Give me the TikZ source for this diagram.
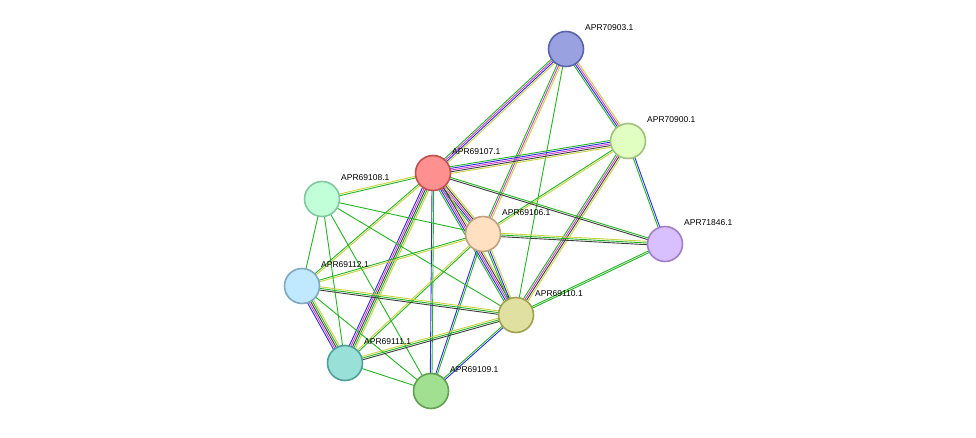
\documentclass[tikz,border=0pt]{standalone}
\usepackage{fontspec}
\setmainfont{Liberation Sans}
\usetikzlibrary{calc,backgrounds}
\definecolor{tm}{HTML}{C8D23C}
\definecolor{nb}{HTML}{22B422}
\definecolor{ex}{HTML}{D23CD2}
\definecolor{db}{HTML}{2A2AE8}
\definecolor{co}{HTML}{3C3C3C}
% link: from, to, number of lines, colours
\newcommand\link[4]{%
  \foreach \col [count=\i] in {#4} {%
    \pgfmathsetmacro\off{(\i-(#3+1)/2)*1.7}
    \draw[\col,line width=0.9pt] ($(#1.center)!\off pt!90:(#2.center)$) -- ($(#2.center)!\off pt!-90:(#1.center)$);
  }}
\begin{document}
\begin{tikzpicture}[x=1pt,y=1pt]
\tikzset{prot/.style = {circle,draw,line width=1.6pt,minimum size=35pt,inner sep=0pt}}
\tikzset{lab/.style = {anchor=west,inner sep=0pt,font=\fontsize{8.5}{10}\selectfont}}
\useasboundingbox (0,0) rectangle (976,437);
\foreach \n/\x/\y/\f/\b in {
  70903/566/388/99A1E0/5A64A8, 70900/628/296/E0FFC0/9FC27F,
  69107/433/264/FF9090/C05050, 69108/322/238/C0FFD8/80C8A0,
  69106/483/203/FFE0C0/C0A080, 71846/665/193/D8C0FF/9F80C8,
  69112/302/151/C0E8FF/80A8C0, 69110/516/122/E0E0A0/A0A050,
  69111/345/74/98E0D8/50A098, 69109/431/46/A0E090/60A050} {
  \definecolor{fc}{HTML}{\f}\definecolor{bc}{HTML}{\b}
  \node[prot,fill=fc,draw=bc] (n\n) at (\x,\y) {};
  \node[lab] (l\n) at ([shift={(19,21)}]n\n.center) {APR\n.1};
}
\begin{pgfonlayer}{background}
\link{n70903}{n70900}{4}{nb,db,ex,tm}
\link{n70903}{n69107}{4}{nb,ex,db,tm}
\link{n70903}{n69106}{3}{nb,ex,tm}
\link{n70903}{n69110}{1}{nb}
\link{n70900}{n69107}{5}{nb,db,ex,co,tm}
\link{n70900}{n69106}{2}{nb,tm}
\link{n70900}{n69110}{4}{nb,ex,co,tm}
\link{n70900}{n71846}{2}{nb,db}
\link{n69107}{n71846}{2}{co,nb}
\link{n69106}{n71846}{3}{co,nb,tm}
\link{n69110}{n71846}{2}{nb,nb}
\link{n69107}{n69106}{5}{nb,db,ex,co,tm}
\link{n69107}{n69110}{5}{nb,db,ex,co,tm}
\link{n69107}{n69108}{2}{tm,nb}
\link{n69107}{n69112}{2}{nb,tm}
\link{n69107}{n69111}{5}{db,ex,co,nb,tm}
\link{n69107}{n69109}{2}{db,nb}
\link{n69106}{n69110}{3}{nb,db,tm}
\link{n69106}{n69111}{2}{tm,nb}
\link{n69106}{n69109}{2}{db,nb}
\link{n69106}{n69112}{2}{nb,tm}
\link{n69108}{n69106}{1}{nb}
\link{n69108}{n69110}{1}{nb}
\link{n69108}{n69112}{1}{nb}
\link{n69108}{n69111}{1}{nb}
\link{n69108}{n69109}{1}{nb}
\link{n69112}{n69110}{3}{co,nb,tm}
\link{n69112}{n69111}{5}{db,ex,co,nb,tm}
\link{n69112}{n69109}{1}{nb}
\link{n69111}{n69110}{3}{co,nb,tm}
\link{n69111}{n69109}{1}{nb}
\link{n69109}{n69110}{2}{db,nb}
\end{pgfonlayer}
\end{tikzpicture}
\end{document}
